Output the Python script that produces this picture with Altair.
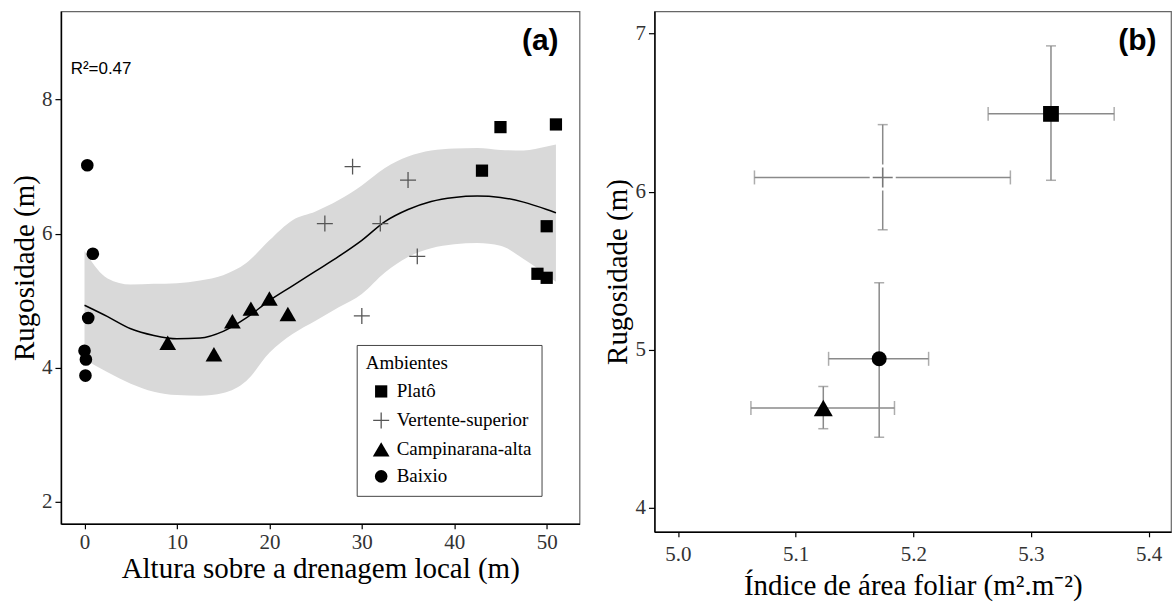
import altair as alt
import pandas as pd

# ---- categories -------------------------------------------------------------
ambientes = ["Platô", "Vertente-superior", "Campinarana-alta", "Baixio"]

# ---- panel (a): roughness vs. height above local drainage -------------------
plato_altura = [45, 51, 43, 50, 49, 50]
plato_rug = [7.59, 7.63, 6.94, 6.11, 5.40, 5.34]
vertente_altura = [29, 35, 26, 32, 36, 30]
vertente_rug = [7.00, 6.80, 6.15, 6.15, 5.66, 4.77]
campinarana_altura = [9, 14, 16, 18, 20, 22]
campinarana_rug = [4.37, 4.20, 4.69, 4.88, 5.03, 4.80]
baixio_altura = [0.3, 0.9, 0.4, 0.0, 0.15, 0.1]
baixio_rug = [7.02, 5.70, 4.74, 4.25, 4.12, 3.88]

# loess fit and its confidence band
smooth_x = [0, 2.5, 5, 7.5, 10, 12.5, 15, 17.5, 20, 22.5, 25, 27.5, 30,
            32.5, 35, 37.5, 40, 42.5, 45, 47.5, 50, 51]
smooth_fit = [4.93, 4.76, 4.58, 4.48, 4.43, 4.44, 4.54, 4.74, 5.00, 5.22,
              5.44, 5.66, 5.90, 6.18, 6.36, 6.48, 6.54, 6.56, 6.54, 6.47,
              6.36, 6.31]
smooth_lo = [4.12, 3.93, 3.76, 3.64, 3.59, 3.58, 3.62, 3.80, 4.22, 4.50,
             4.70, 4.90, 5.10, 5.42, 5.65, 5.78, 5.84, 5.86, 5.82, 5.62,
             5.38, 5.28]
smooth_hi = [5.74, 5.33, 5.24, 5.25, 5.26, 5.30, 5.38, 5.56, 5.90, 6.20,
             6.33, 6.50, 6.72, 6.98, 7.15, 7.24, 7.27, 7.28, 7.25, 7.24,
             7.30, 7.33]
r2_text = "R²=0.47"

# ---- panel (b): group means with error bars ----------------------------------
iaf_mean = [5.317, 5.174, 5.1235, 5.171]
iaf_lo = [5.2636, 5.065, 5.062, 5.128]
iaf_hi = [5.3707, 5.2825, 5.184, 5.213]
rug_mean = [6.492, 6.090, 4.632, 4.943]
rug_lo = [6.072, 5.759, 4.501, 4.447]
rug_hi = [6.922, 6.424, 4.768, 5.424]

# ---- tables --------------------------------------------------------------------
obs = pd.DataFrame({
    "altura": plato_altura + vertente_altura + campinarana_altura + baixio_altura,
    "rug": plato_rug + vertente_rug + campinarana_rug + baixio_rug,
    "ambiente": ([ambientes[0]] * len(plato_altura) + [ambientes[1]] * len(vertente_altura)
                 + [ambientes[2]] * len(campinarana_altura) + [ambientes[3]] * len(baixio_altura)),
})
smooth = pd.DataFrame({"altura": smooth_x, "fit": smooth_fit, "lo": smooth_lo, "hi": smooth_hi})
means = pd.DataFrame({"ambiente": ambientes, "iaf": iaf_mean, "iaf_lo": iaf_lo, "iaf_hi": iaf_hi,
                      "rug": rug_mean, "rug_lo": rug_lo, "rug_hi": rug_hi})
hcaps = pd.DataFrame({"iaf": iaf_lo + iaf_hi, "rug": rug_mean + rug_mean})
vcaps = pd.DataFrame({"iaf": iaf_mean + iaf_mean, "rug": rug_lo + rug_hi})

SERIF = "Liberation Serif"
SANS = "Liberation Sans"
# thin filled plus sign (two overlapping bars) and a thicker one used as a white halo
PLUS = "M-1,-0.08H1V0.08H-1ZM-0.08,-1H0.08V1H-0.08Z"
PLUS_HALO = "M-1,-0.14H1V0.14H-1ZM-0.14,-1H0.14V1H-0.14Z"
shape_range = ["square", PLUS, "triangle-up", "circle"]

# ---- panel (a) ---------------------------------------------------------------------
xa = alt.Scale(domain=[-2.55, 53.55], nice=False, zero=False)
ya = alt.Scale(domain=[1.667, 9.32], nice=False, zero=False)
xa_axis = alt.Axis(values=[0, 10, 20, 30, 40, 50], labelPadding=3, titlePadding=2, tickSize=5)
ya_axis = alt.Axis(values=[2, 4, 6, 8], format="d", labelPadding=3, titlePadding=2, tickSize=6)

legend_a = alt.Legend(title="Ambientes", orient="none", legendX=296, legendY=334,
                      strokeColor="#444444", fillColor="white", padding=9,
                      titleFont=SERIF, titleFontSize=19, titleFontWeight="normal",
                      titleColor="black", titlePadding=9,
                      labelFont=SERIF, labelFontSize=19, labelColor="black",
                      symbolOffset=6, labelOffset=6, rowPadding=7, symbolSize=90, symbolOpacity=1)

band = alt.Chart(smooth).mark_area(color="#d9d9d9", opacity=1, interpolate="monotone").encode(
    x=alt.X("altura:Q", scale=xa, axis=xa_axis, title="Altura sobre a drenagem local (m)"),
    y=alt.Y("lo:Q", scale=ya, axis=ya_axis, title="Rugosidade (m)"),
    y2="hi:Q",
)
fit_line = alt.Chart(smooth).mark_line(color="black", strokeWidth=1.5, interpolate="monotone").encode(
    x="altura:Q", y="fit:Q"
)
points_a = alt.Chart(obs).mark_point(filled=True, opacity=1).encode(
    x="altura:Q",
    y="rug:Q",
    shape=alt.Shape("ambiente:N", scale=alt.Scale(domain=ambientes, range=shape_range), legend=legend_a),
    color=alt.Color("ambiente:N", scale=alt.Scale(domain=ambientes,
                                                   range=["black", "#555555", "black", "black"]),
                    legend=legend_a),
    size=alt.Size("ambiente:N", scale=alt.Scale(type="ordinal", domain=ambientes,
                                                 range=[150, 256, 280, 160]), legend=None),
)
lab_a = pd.DataFrame({"x": [49.3], "y": [8.87], "t": ["(a)"]})
lab_r2 = pd.DataFrame({"x": [-1.5], "y": [8.46], "t": [r2_text]})
text_a = alt.Chart(lab_a).mark_text(font=SANS, fontSize=30, fontWeight="bold", color="black",
                                    align="center", baseline="middle").encode(x="x:Q", y="y:Q", text="t:N")
text_r2 = alt.Chart(lab_r2).mark_text(font=SANS, fontSize=17, color="black",
                                      align="left", baseline="middle").encode(x="x:Q", y="y:Q", text="t:N")

panel_a = alt.layer(band, fit_line, points_a, text_r2, text_a).properties(width=519, height=513)

# ---- panel (b) ---------------------------------------------------------------------
xb = alt.Scale(domain=[4.98, 5.419], nice=False, zero=False)
yb = alt.Scale(domain=[3.849, 7.141], nice=False, zero=False)
xb_axis = alt.Axis(values=[5.0, 5.1, 5.2, 5.3, 5.4], format=".1f", labelPadding=7, titlePadding=7, tickSize=5)
yb_axis = alt.Axis(values=[4, 5, 6, 7], format="d", labelPadding=3, titlePadding=2, tickSize=6)
ERR = "#8a8a8a"

hbars = alt.Chart(means).mark_rule(color=ERR, strokeWidth=1.5).encode(
    x=alt.X("iaf_lo:Q", scale=xb, axis=xb_axis, title="Índice de área foliar (m².m⁻²)"),
    x2="iaf_hi:Q",
    y=alt.Y("rug:Q", scale=yb, axis=yb_axis, title="Rugosidade (m)"),
)
vbars = alt.Chart(means).mark_rule(color=ERR, strokeWidth=1.5).encode(
    x="iaf:Q", y="rug_lo:Q", y2="rug_hi:Q"
)
hcap = alt.Chart(hcaps).mark_tick(color=ERR, thickness=1.5, size=14, orient="vertical").encode(
    x="iaf:Q", y="rug:Q"
)
vcap = alt.Chart(vcaps).mark_tick(color=ERR, thickness=1.5, size=10, orient="horizontal").encode(
    x="iaf:Q", y="rug:Q"
)
plus_halo = alt.Chart(means).transform_filter(alt.datum.ambiente == ambientes[1]).mark_point(
    shape=PLUS_HALO, filled=True, color="white", size=680, opacity=1
).encode(x="iaf:Q", y="rug:Q")
points_b = alt.Chart(means).mark_point(filled=True, opacity=1).encode(
    x="iaf:Q",
    y="rug:Q",
    shape=alt.Shape("ambiente:N", scale=alt.Scale(domain=ambientes, range=shape_range), legend=None),
    color=alt.Color("ambiente:N", scale=alt.Scale(domain=ambientes,
                                                   range=["black", "#777777", "black", "black"]),
                    legend=None),
    size=alt.Size("ambiente:N", scale=alt.Scale(type="ordinal", domain=ambientes,
                                                 range=[250, 400, 360, 225]), legend=None),
)
lab_b = pd.DataFrame({"x": [5.3905], "y": [6.955], "t": ["(b)"]})
text_b = alt.Chart(lab_b).mark_text(font=SANS, fontSize=30, fontWeight="bold", color="black",
                                    align="center", baseline="middle").encode(x="x:Q", y="y:Q", text="t:N")

panel_b = alt.layer(hbars, vbars, hcap, vcap, plus_halo, points_b, text_b).properties(width=517, height=521)

chart = alt.hconcat(panel_a, panel_b, spacing=22).resolve_scale(
    x="independent", y="independent", shape="independent", color="independent", size="independent"
).properties(
    padding={"left": 9, "top": 10, "right": 0, "bottom": 0},
    background="white",
).configure_view(
    stroke="#666666", strokeWidth=1.2
).configure_axis(
    grid=False, domainColor="black", domainWidth=1.5, tickColor="black", tickWidth=1.2,
    labelFont=SERIF, labelFontSize=21, labelColor="#333333",
    titleFont=SERIF, titleFontSize=29, titleFontWeight="normal", titleColor="black",
)

chart.save("out.html", embed_options={"renderer": "svg", "actions": False})
